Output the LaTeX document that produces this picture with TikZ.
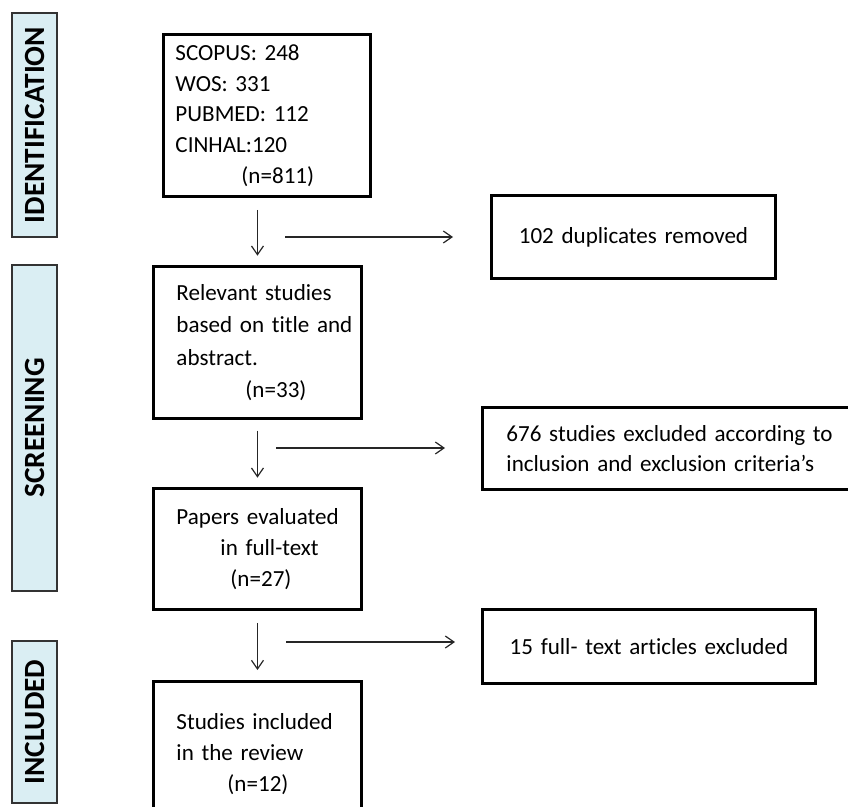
\documentclass[tikz,border=0pt]{standalone}
\usepackage{fontspec}
\setmainfont{Carlito}[Ligatures=NoCommon]
\usetikzlibrary{arrows.meta}
\definecolor{bandcolor}{HTML}{DAEEF3}

\begin{document}
\begin{tikzpicture}[
		x=0.75pt, y=-0.75pt,
		band/.style={draw=black!80, line width=1.2pt, fill=bandcolor, rotate=90,
			minimum height=33.75pt, inner sep=0pt, font=\fontsize{22}{22}\selectfont\bfseries},
		box/.style={draw=black, line width=2.2pt, anchor=north west, inner ysep=0pt,
			inner xsep=17.25pt, text width=121.5pt, minimum width=156pt, align=left,
			font=\fontsize{17.3}{23}\selectfont},
		sidebox/.style={box, align=center, inner xsep=0pt},
		arr/.style={draw=black!85, line width=0.9pt, -{Straight Barb[length=6.5pt,width=9pt]}}
		]
		
		% 画布范围
		\useasboundingbox (0,0) rectangle (848,806);
		\clip (0,0) rectangle (848,806);
		
		% 左侧阶段标签
		\node[band, minimum width=168pt] (ident) at (34.5,125) {IDENTIFICATION};
		\node[band, minimum width=244.5pt] (screen) at (34.5,428) {SCREENING};
		\node[band, minimum width=121.5pt] (incl) at (34.5,722) {INCLUDED};
		
		% 主流程框
		\node[box, inner xsep=9pt, text width=137.25pt, minimum width=155.25pt,
			minimum height=121.5pt] (search) at (162,33)
			{SCOPUS: 248\\WOS: 331\\PUBMED: 112\\CINHAL:120\\\hspace*{49.5pt}(n=811)};
		\node[box, minimum height=114pt, font=\fontsize{17.3}{24.2}\selectfont]
			(relevant) at (152,265)
			{\mbox{Relevant studies}\\\mbox{based on title and}\\abstract.\\\hspace*{51.75pt}(n=33)};
		\node[box, minimum height=90.75pt] (fulltext) at (152,487)
			{\mbox{Papers evaluated}\\\hspace*{33pt}\mbox{in full-text}\\\hspace*{40.5pt}(n=27)};
		\node[box, minimum height=108.75pt] (review) at (152,680)
			{\mbox{Studies included}\\\mbox{in the review}\\\hspace*{38.25pt}(n=12)};
		
		% 右侧排除框
		\node[sidebox, text width=213pt, minimum width=213pt, minimum height=62.25pt]
			(dup) at (490,194) {102 duplicates removed};
		\node[box, inner xsep=18pt, text width=263.25pt, minimum width=299.25pt,
			minimum height=61.5pt] (excl) at (481,406)
			{676 studies excluded according to\\inclusion and exclusion criteria’s};
		\node[sidebox, text width=249.75pt, minimum width=249.75pt, minimum height=55.5pt]
			(fullexcl) at (481,608) {15 full- text articles excluded};
		
		% 横向箭头起点
		\coordinate (h1) at (285,237);
		\coordinate (h2) at (276,448);
		\coordinate (h3) at (286,642);
		
		% 向下箭头
		\draw[arr, shorten <=9pt, shorten >=7pt] (search.south -| relevant.north) -- (relevant.north);
		\draw[arr, shorten <=8pt, shorten >=7pt] (relevant.south) -- (fulltext.north);
		\draw[arr, shorten <=9pt, shorten >=7.5pt] (fulltext.south) -- (review.north);
		
		% 向右箭头
		\draw[arr, shorten >=27.75pt] (h1) -- (h1 -| dup.west);
		\draw[arr, shorten >=27pt] (h2) -- (h2 -| excl.west);
		\draw[arr, shorten >=19.5pt] (h3) -- (h3 -| fullexcl.west);
		
	\end{tikzpicture}
\end{document}
